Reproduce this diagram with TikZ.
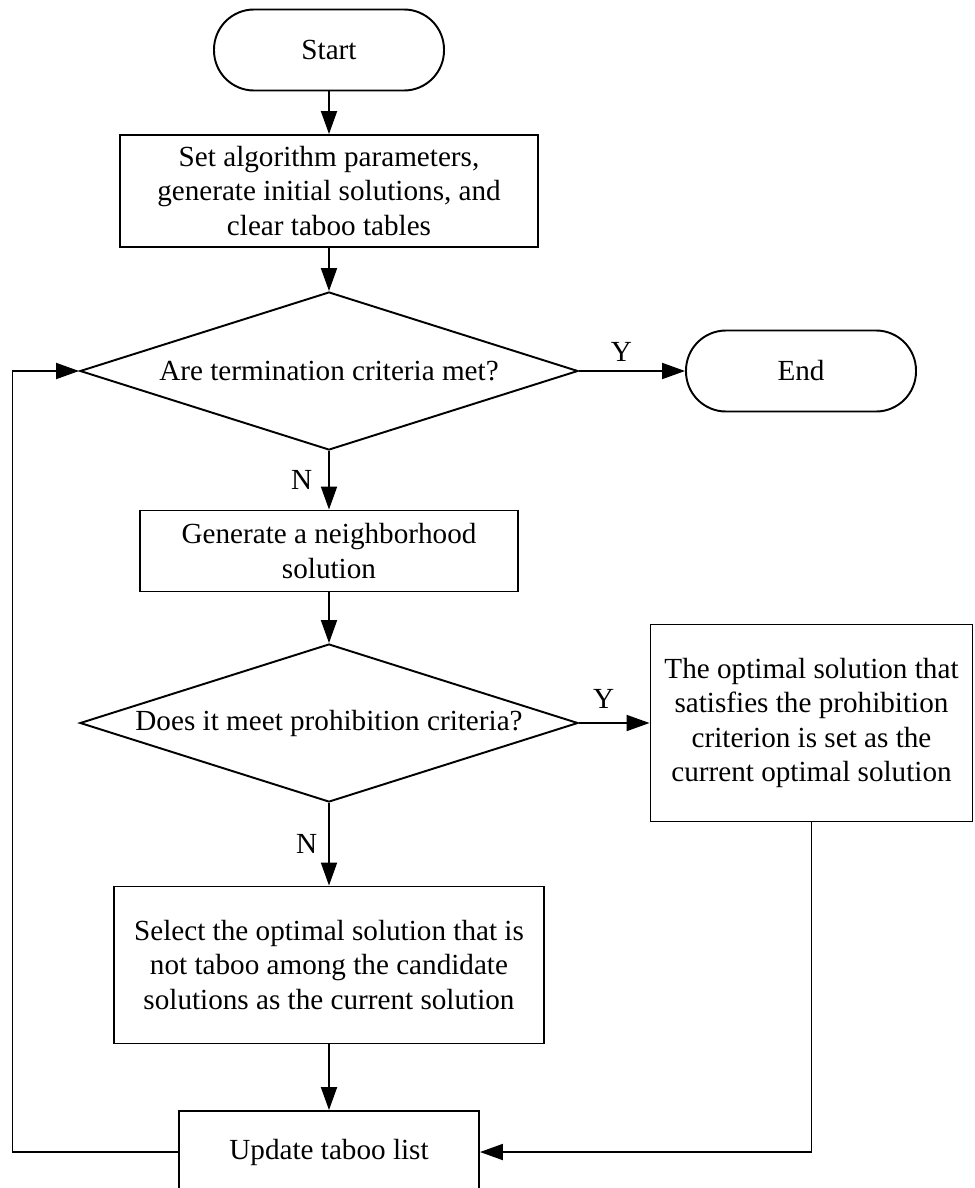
\documentclass[tikz,border=0pt]{standalone}
\usepackage{fontspec}
\setmainfont{Liberation Serif}
\usetikzlibrary{shapes.geometric, arrows.meta}
\tikzstyle{startstop} = [rectangle, rounded corners=8mm, minimum width=4.6cm, minimum height=1.62cm, text centered, draw=black, line width=1.1pt]
\tikzstyle{process} = [rectangle, minimum height=1.62cm, text centered, align=center, draw=black, line width=1.1pt]
\tikzstyle{decision} = [diamond, aspect=3.15, inner sep=0pt, minimum width=9.96cm, minimum height=3.16cm, text centered, draw=black, line width=1.1pt]
\tikzstyle{arrow} = [line width=1.1pt, -{Triangle[length=4.6mm, width=3.2mm]}]
\begin{document}
\begin{tikzpicture}[node distance=3.6cm, font=\fontsize{16.6}{19.4}\selectfont]
        \useasboundingbox (0,0) rectangle (19.48,-23.76);
        \node (start) [startstop] at (6.58,-1.0) {Start};
        \node (setup) [process, minimum width=8.36cm, minimum height=2.24cm, below of=start, yshift=0.78cm] {Set algorithm parameters,\\generate initial solutions, and\\clear taboo tables};
        \node (check) [decision, below of=setup] {Are termination criteria met?};
        \node (end) [startstop, right of=check, xshift=5.84cm] {End};
        \node (neigh) [process, minimum width=7.56cm, below of=check] {Generate a neighborhood\\solution};
        \node (prohib) [decision, below of=neigh, yshift=0.16cm] {Does it meet prohibition criteria?};
        \node (aspir) [process, minimum width=6.44cm, minimum height=3.94cm, right of=prohib, xshift=6.05cm] {The optimal solution that\\satisfies the prohibition\\criterion is set as the\\current optimal solution};
        \node (select) [process, minimum width=8.6cm, minimum height=3.14cm, below of=prohib, yshift=-1.24cm] {Select the optimal solution that is\\not taboo among the candidate\\solutions as the current solution};
        \node (update) [process, minimum width=6cm, minimum height=1.64cm, below of=select, yshift=-0.14cm] {Update taboo list};
        \coordinate (back) at (0.25,-15);
        \draw [arrow] (start) -- (setup);
        \draw [arrow] (setup) -- (check);
        \draw [arrow] (check) -- node[above, pos=0.4, yshift=0.05cm] {Y} (end);
        \draw [arrow] (check) -- node[left, xshift=-0.2cm] {N} (neigh);
        \draw [arrow] (neigh) -- (prohib);
        \draw [arrow] (prohib) -- node[above, pos=0.35, yshift=0.15cm] {Y} (aspir);
        \draw [arrow] (prohib) -- node[left, xshift=-0.1cm] {N} (select);
        \draw [arrow] (select) -- (update);
        \draw [arrow] (aspir.south) |- (update.east);
        \draw [arrow] (update.west) -| (back) |- (check.west);
\end{tikzpicture}
\end{document}
